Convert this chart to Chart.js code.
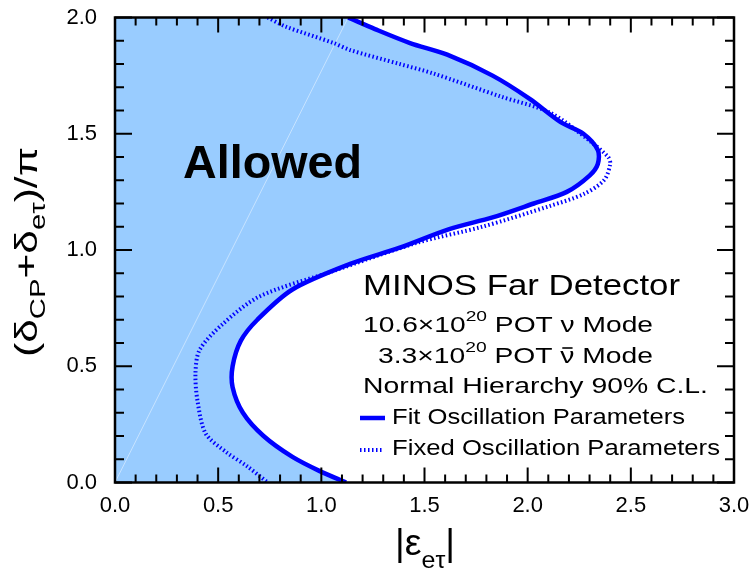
<!DOCTYPE html>
<html>
<head>
<meta charset="utf-8">
<script src="https://cdn.jsdelivr.net/npm/chart.js@4.4.0/dist/chart.umd.min.js"></script>
<style>
body{margin:0;background:#fff}
</style>
</head>
<body>
<canvas id="myChart" width="752" height="571" style="width:752px;height:571px"></canvas>
<script>
'use strict'
// contour, top (delta=2) to bottom (delta=0)
let fitDelta=[2.00,1.95,1.89,1.84,1.75,1.65,1.55,1.50,1.43,1.37,1.32,1.25,1.20,1.14,1.09,1.01,0.94,0.83,0.70,0.61,0.50,0.41,0.30,0.20,0.11,0.05,0.00]
let fitEps=[1.13,1.26,1.43,1.61,1.83,2.01,2.16,2.27,2.34,2.34,2.30,2.19,2.03,1.83,1.62,1.38,1.14,0.86,0.69,0.61,0.57,0.57,0.62,0.72,0.86,0.99,1.12]
let fixedDelta=[2.00,1.96,1.89,1.86,1.80,1.76,1.66,1.59,1.47,1.40,1.37,1.30,1.24,1.19,1.10,1.03,0.91,0.80,0.68,0.57,0.47,0.35,0.21,0.13,0.07,0.00]
let fixedEps=[0.74,0.83,1.06,1.14,1.38,1.54,1.87,2.11,2.30,2.39,2.40,2.37,2.27,2.11,1.78,1.46,1.06,0.70,0.52,0.41,0.39,0.40,0.44,0.54,0.64,0.74]
// faint seam line seen in the fill
let seamEps=[0,1.13]
let seamDelta=[0,2]
let xRange=[0,3]
let yRange=[0,2]

const FONT='"Liberation Sans", Arial, Helvetica, sans-serif'
const BLUE='#0000ff'

function pts(xs,ys){
    let out=[]
    for (let i = 0; i < xs.length; i++) out.push({x:xs[i],y:ys[i]})
    return out
}
let fitPts=pts(fitEps,fitDelta)
let fillPts=fitPts.concat([{x:0,y:0},{x:0,y:2}])

function runsWidth(ctx,runs){
    let w=0
    for (let r of runs){ ctx.font=r.font; w+=ctx.measureText(r.t).width }
    return w
}
// draws a row of text pieces, stretched to the wanted length
function drawRuns(ctx,x,y,runs,target){
    let w=runsWidth(ctx,runs)
    let sx=target ? target/w : 1
    ctx.save()
    ctx.translate(x,y)
    ctx.scale(sx,1)
    let cx=0
    for (let r of runs){
        ctx.font=r.font
        let rw=ctx.measureText(r.t).width
        ctx.fillText(r.t,cx,r.dy||0)
        if(r.bar){
            ctx.lineWidth=1.6
            ctx.beginPath()
            ctx.moveTo(cx+1.5,-15)
            ctx.lineTo(cx+rw-1.5,-15)
            ctx.stroke()
        }
        cx+=rw
    }
    ctx.restore()
}
const f=(s,b)=>(b?'bold ':'')+s+'px '+FONT

let decor={
    id:'decor',
    afterDraw(chart){
        let ctx=chart.ctx
        let a=chart.chartArea
        let xs=chart.scales.x, ys=chart.scales.y
        ctx.save()
        ctx.strokeStyle='#000'
        ctx.fillStyle='#000'
        ctx.lineWidth=2
        // inward ticks on all four sides
        for (let i = 0; i <= 30; i++) {
            let px=xs.getPixelForValue(i/10)
            let len=(i%5==0)?15:8
            ctx.beginPath()
            ctx.moveTo(px,a.bottom); ctx.lineTo(px,a.bottom-len)
            ctx.moveTo(px,a.top); ctx.lineTo(px,a.top+len)
            ctx.stroke()
        }
        for (let i = 0; i <= 20; i++) {
            let py=ys.getPixelForValue(i/10)
            let len=(i%5==0)?17:9
            ctx.beginPath()
            ctx.moveTo(a.left,py); ctx.lineTo(a.left+len,py)
            ctx.moveTo(a.right,py); ctx.lineTo(a.right-len,py)
            ctx.stroke()
        }
        ctx.lineWidth=2.5
        ctx.strokeRect(a.left,a.top,a.right-a.left,a.bottom-a.top)

        ctx.textBaseline='alphabetic'
        ctx.textAlign='left'
        ctx.strokeStyle='#000'
        drawRuns(ctx,183,178,[{t:'Allowed',font:f(47,true)}],179)

        drawRuns(ctx,363,295,[{t:'MINOS Far Detector',font:f(30)}],317)
        drawRuns(ctx,363,332,[{t:'10.6×10',font:f(22)},{t:'20',font:f(15),dy:-11},{t:' POT ν Mode',font:f(22)}],290)
        drawRuns(ctx,378,363,[{t:'3.3×10',font:f(22)},{t:'20',font:f(15),dy:-11},{t:' POT ',font:f(22)},{t:'ν',font:f(22),bar:true},{t:' Mode',font:f(22)}],275)
        drawRuns(ctx,363,393,[{t:'Normal Hierarchy 90% C.L.',font:f(22)}],345)
        drawRuns(ctx,392,424,[{t:'Fit Oscillation Parameters',font:f(22)}],293)
        drawRuns(ctx,392,455,[{t:'Fixed Oscillation Parameters',font:f(22)}],328)

        // legend samples
        ctx.strokeStyle=BLUE
        ctx.lineWidth=4.5
        ctx.beginPath(); ctx.moveTo(360,418); ctx.lineTo(385,418); ctx.stroke()
        ctx.lineWidth=4
        ctx.setLineDash([1.5,2.5])
        ctx.beginPath(); ctx.moveTo(360,450); ctx.lineTo(384,450); ctx.stroke()
        ctx.setLineDash([])

        // axis titles
        ctx.fillStyle='#000'
        ctx.strokeStyle='#000'
        drawRuns(ctx,395,555,[{t:'|ε',font:f(36)},{t:'eτ',font:f(24),dy:13},{t:'|',font:f(36)}],60)
        ctx.save()
        ctx.translate(37,252)
        ctx.rotate(-Math.PI/2)
        drawRuns(ctx,-105,0,[{t:'(δ',font:f(32)},{t:'CP',font:f(22),dy:8},{t:'+δ',font:f(32)},{t:'eτ',font:f(22),dy:8},{t:')/π',font:f(32)}],210)
        ctx.restore()
        ctx.restore()
    }
}

let ctx = document.getElementById('myChart').getContext('2d');
let myChart = new Chart(ctx, {
    type: 'line',
    data: {
        datasets: [{
            label: 'Allowed',
            data: fillPts,
            borderWidth: 0,
            backgroundColor: '#99ccff',
            fill: 'shape',
            pointRadius: 0,
            tension: 0,
            order: 3
        },{
            label: 'seam',
            data: pts(seamEps,seamDelta),
            borderColor: 'rgba(255,255,255,0.45)',
            borderWidth: 1,
            pointRadius: 0,
            fill: false,
            order: 2
        },{
            label: 'Fit Oscillation Parameters',
            data: fitPts,
            borderColor: BLUE,
            borderWidth: 4.5,
            pointRadius: 0,
            fill: false,
            tension: 0.3,
            order: 1
        },{
            label: 'Fixed Oscillation Parameters',
            data: pts(fixedEps,fixedDelta),
            borderColor: BLUE,
            borderWidth: 4,
            borderDash: [1.5,2.5],
            pointRadius: 0,
            fill: false,
            tension: 0.3,
            order: 1
        }]
    },
    options: {
        responsive: false,
        animation: false,
        layout: { padding: { top: 17.5, right: 18, left: 0, bottom: 0 } },
        plugins: { legend: { display: false }, tooltip: { enabled: false } },
        scales: {
            x: {
                type: 'linear',
                min: xRange[0], max: xRange[1],
                grid: { display: false, drawTicks: false },
                border: { display: false },
                ticks: {
                    stepSize: 0.5, autoSkip: false, maxRotation: 0,
                    color: '#000', padding: 10,
                    font: { family: FONT, size: 22 },
                    callback: v => v.toFixed(1)
                },
                afterFit(s){ s.height = 88.5; s.paddingLeft = 0; s.paddingRight = 0 }
            },
            y: {
                type: 'linear',
                min: yRange[0], max: yRange[1],
                grid: { display: false, drawTicks: false },
                border: { display: false },
                ticks: {
                    stepSize: 0.5, autoSkip: false,
                    color: '#000', padding: 18,
                    font: { family: FONT, size: 22 },
                    callback: v => v.toFixed(1)
                },
                afterFit(s){ s.width = 115; s.paddingTop = 0; s.paddingBottom = 0 }
            }
        }
    },
    plugins: [decor]
})
</script>
</body>
</html>
